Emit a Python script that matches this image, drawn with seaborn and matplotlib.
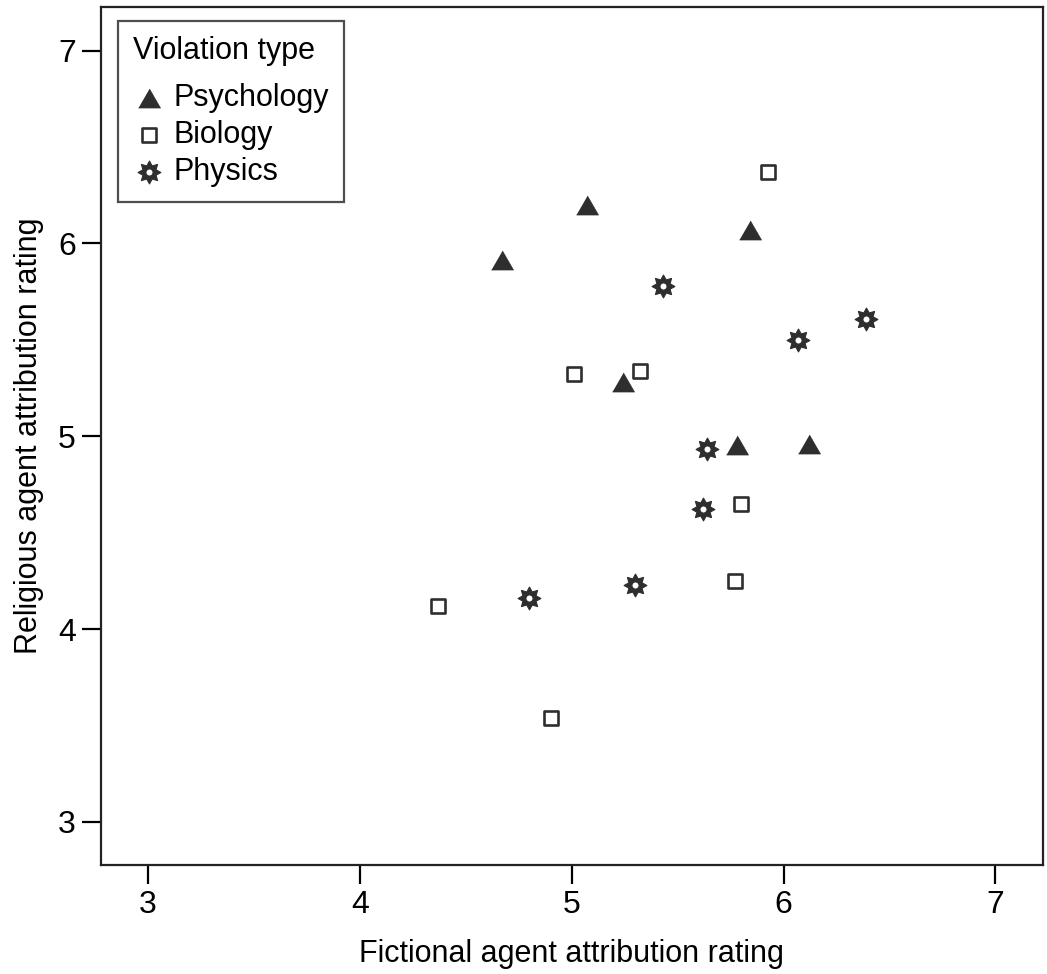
import numpy as np
import seaborn as sns
import matplotlib.pyplot as plt
import pandas as pd
from matplotlib.path import Path

# data
psy_x = [4.67, 5.07, 5.84, 5.24, 5.78, 6.12]
psy_y = [5.915, 6.20, 6.07, 5.28, 4.955, 4.96]
bio_x = [5.925, 5.01, 5.32, 5.80, 5.77, 4.37, 4.90]
bio_y = [6.37, 5.32, 5.34, 4.65, 4.25, 4.12, 3.54]
phy_x = [5.43, 6.07, 6.39, 5.64, 5.62, 5.30, 4.80]
phy_y = [5.78, 5.50, 5.61, 4.935, 4.62, 4.23, 4.16]
ticks = [3, 4, 5, 6, 7]

df = pd.DataFrame({
    'fict': psy_x + bio_x + phy_x,
    'rel': psy_y + bio_y + phy_y,
    'type': ['Psychology'] * len(psy_x) + ['Biology'] * len(bio_x) + ['Physics'] * len(phy_x),
})

# 8-point star with a small hole in the middle (SPSS style)
ang = np.pi / 2 + np.arange(16) * np.pi / 8
rad = np.where(np.arange(16) % 2 == 0, 1.0, 0.62)
outer = np.column_stack([rad * np.cos(ang), rad * np.sin(ang)])
hang = np.linspace(0, 2 * np.pi, 13)[:-1][::-1]
hole = np.column_stack([0.32 * np.cos(hang), 0.32 * np.sin(hang)])
verts = np.vstack([outer, outer[:1], hole, hole[:1]])
codes = ([Path.MOVETO] + [Path.LINETO] * 15 + [Path.CLOSEPOLY]
         + [Path.MOVETO] + [Path.LINETO] * 11 + [Path.CLOSEPOLY])
star = Path(verts, codes)
tri = [(-1, -0.866), (1, -0.866), (0, 0.866)]

sns.set_theme(style='ticks')
plt.rcParams['font.family'] = ['Liberation Sans', 'DejaVu Sans']
plt.rcParams['text.color'] = 'black'
plt.rcParams['axes.labelcolor'] = 'black'
plt.rcParams['xtick.color'] = 'black'
plt.rcParams['ytick.color'] = 'black'

dark = '#2e2e2e'
fig = plt.figure(figsize=(10.47, 9.74), dpi=100)
ax = fig.add_axes([0.0962, 0.112, 0.8997, 0.8803])

sns.scatterplot(data=df[df['type'] == 'Psychology'], x='fict', y='rel', marker=tri,
                s=250, color=dark, edgecolor=dark, linewidth=0.5, label='Psychology', ax=ax)
sns.scatterplot(data=df[df['type'] == 'Biology'], x='fict', y='rel', marker='s',
                s=105, facecolor='white', edgecolor=dark, linewidth=1.9, label='Biology', ax=ax)
sns.scatterplot(data=df[df['type'] == 'Physics'], x='fict', y='rel', marker=star,
                s=270, color=dark, edgecolor=dark, linewidth=0.8, label='Physics', ax=ax)

ax.set_xlim(2.777, 7.223)
ax.set_ylim(2.777, 7.223)
ax.set_xticks(ticks)
ax.set_yticks(ticks)
ax.tick_params(axis='both', length=14, width=1.6, color='black', labelsize=23, pad=4)
for sp in ax.spines.values():
    sp.set_visible(True)
    sp.set_color('#222222')
    sp.set_linewidth(1.6)

ax.set_xlabel('Fictional agent attribution rating', fontsize=22, labelpad=14)
ax.set_ylabel('Religious agent attribution rating', fontsize=22, labelpad=10)

leg = ax.legend(title='Violation type', loc='upper left', fontsize=22, title_fontsize=22,
                frameon=True, fancybox=False, edgecolor='#222222', borderpad=0.5,
                handletextpad=0.3, labelspacing=0.22, handlelength=1.0,
                bbox_to_anchor=(0.0184, 0.984), borderaxespad=0)
leg.get_frame().set_linewidth(1.6)
leg._legend_box.align = 'left'
leg._legend_box.sep = 12

fig.savefig('out.png', dpi=100)
